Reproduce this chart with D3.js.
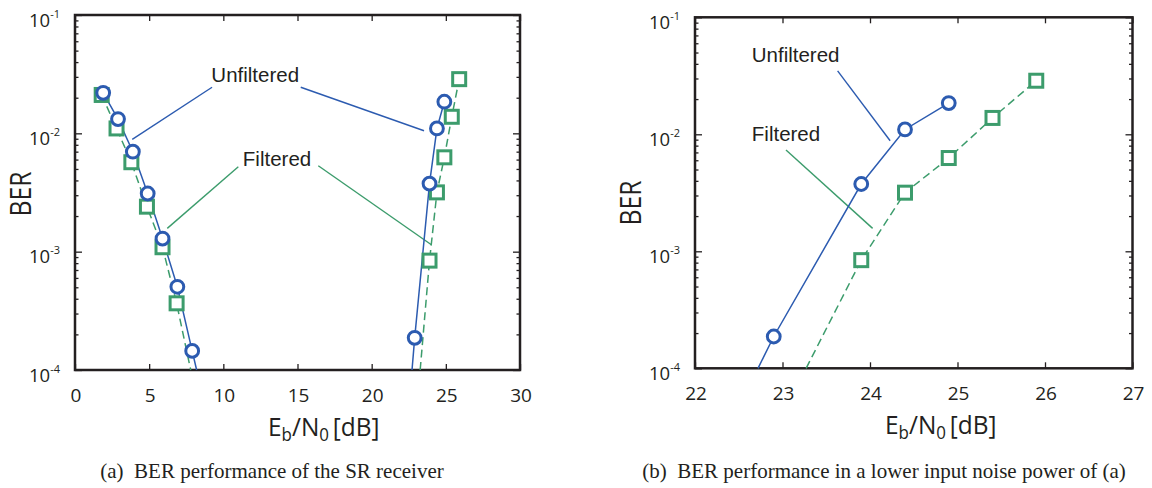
<!DOCTYPE html>
<html>
<head>
<meta charset="utf-8">
<script src="https://cdn.jsdelivr.net/npm/d3@7"></script>
<style>
  body { margin: 0; background: #fff; }
  svg { display: block; }
</style>
</head>
<body>
<svg id="chart" width="1152" height="488"></svg>
<script>
// values (x in dB, BER)
var unfLowX   = [1.9, 2.9, 3.9, 4.9, 5.9, 6.9, 7.9, 8.2];
var unfLowBER = [2.2e-2, 1.32e-2, 7.0e-3, 3.1e-3, 1.29e-3, 5.05e-4, 1.45e-4, 1e-4];
var filLowX   = [1.8, 2.8, 3.8, 4.85, 5.9, 6.85, 7.8];
var filLowBER = [2.11e-2, 1.10e-2, 5.7e-3, 2.4e-3, 1.09e-3, 3.66e-4, 1e-4];

var unfHighX   = [22.72, 22.9, 23.9, 24.4, 24.9];
var unfHighBER = [1e-4, 1.87e-4, 3.76e-3, 1.1e-2, 1.85e-2];
var filHighX   = [23.27, 23.9, 24.4, 24.9, 25.4, 25.9];
var filHighBER = [1e-4, 8.4e-4, 3.17e-3, 6.27e-3, 1.38e-2, 2.87e-2];

// last point of the low-SNR tails and first of the high ones are only line ends
var unfLowMarks = 7, filLowMarks = 6;

var xTicksA = [0, 5, 10, 15, 20, 25, 30];
var xTicksB = [22, 23, 24, 25, 26, 27];
var yTicks  = [1e-1, 1e-2, 1e-3, 1e-4];
var yTickExp = ['-1', '-2', '-3', '-4'];

var captionA = '(a)  BER performance of the SR receiver';
var captionB = '(b)  BER performance in a lower input noise power of (a)';

var BLUE = '#2c5bb0', GREEN = '#3c9c6c', INK = '#231f20';

var svg = d3.select('#chart');

function zip(xs, ys) {
    var out = [];
    for (var i = 0; i < xs.length; i++) out.push([xs[i], ys[i]]);
    return out;
}

function drawPanel(p) {
    var g = svg.append('g');
    var x = d3.scaleLinear().domain(p.xDomain).range([p.left, p.right]);
    var y = d3.scaleLog().domain([1e-4, 1e-1]).range([p.bottom, p.top]);

    var minor = [];
    [1e-4, 1e-3, 1e-2].forEach(function (dec) {
        for (var k = 2; k <= 9; k++) minor.push(dec * k);
    });

    // ticks, all pointing inward
    function axis(ax, tv, size, tr) {
        var a = g.append('g').attr('transform', tr)
            .call(ax.tickValues(tv).tickSize(size).tickFormat(''));
        a.select('.domain').remove();
        a.selectAll('line').attr('stroke', INK).attr('stroke-width', 1.3);
    }
    axis(d3.axisLeft(y), yTicks, -7, 'translate(' + p.left + ',0)');
    axis(d3.axisLeft(y), minor, -3.5, 'translate(' + p.left + ',0)');
    axis(d3.axisRight(y), yTicks, -7, 'translate(' + p.right + ',0)');
    axis(d3.axisRight(y), minor, -3.5, 'translate(' + p.right + ',0)');
    axis(d3.axisBottom(x), p.xTicks, -6, 'translate(0,' + p.bottom + ')');
    axis(d3.axisTop(x), p.xTicks, -6, 'translate(0,' + p.top + ')');

    g.append('rect')
        .attr('x', p.left).attr('y', p.top)
        .attr('width', p.right - p.left).attr('height', p.bottom - p.top)
        .attr('fill', 'none').attr('stroke', INK).attr('stroke-width', 2.5);

    // y tick labels 10^-n
    yTicks.forEach(function (v, i) {
        var t = g.append('text')
            .attr('x', p.left - 15).attr('y', y(v) + 11.5)
            .attr('text-anchor', 'end')
            .attr('font-family', 'Open Sans, sans-serif')
            .attr('fill', INK);
        t.append('tspan').attr('font-size', 18.5).text('10');
        t.append('tspan').attr('font-size', 11).attr('dy', -9).text(yTickExp[i]);
    });

    // x tick labels
    p.xTicks.forEach(function (v) {
        g.append('text')
            .attr('x', x(v) + 1).attr('y', p.bottom + 32)
            .attr('text-anchor', 'middle')
            .attr('font-family', 'Open Sans, sans-serif')
            .attr('font-size', 19).attr('fill', INK)
            .text(v);
    });

    // axis titles
    g.append('text')
        .attr('transform', 'translate(' + p.berX + ',' + p.berY + ') rotate(-90)')
        .attr('text-anchor', 'middle')
        .attr('font-family', 'Open Sans, sans-serif')
        .attr('font-size', 29).attr('fill', INK)
        .attr('textLength', 45).attr('lengthAdjust', 'spacingAndGlyphs')
        .text('BER');

    var xl = g.append('text')
        .attr('transform', 'translate(' + p.xlabX + ',' + (p.bottom + 66) + ') scale(0.94,1)')
        .attr('font-family', 'Open Sans, sans-serif')
        .attr('font-size', 26).attr('fill', INK);
    xl.append('tspan').text('E');
    xl.append('tspan').attr('font-size', 18).attr('dy', 5).text('b');
    xl.append('tspan').attr('dy', -5).text('/N');
    xl.append('tspan').attr('font-size', 18).attr('dy', 5).text('0');
    xl.append('tspan').attr('dy', -5).attr('dx', 4).text('[dB]');

    g.append('text')
        .attr('x', p.capX).attr('y', 478)
        .attr('text-anchor', 'middle')
        .attr('font-family', 'Liberation Serif, Times New Roman, serif')
        .attr('font-size', 21).attr('fill', INK)
        .attr('xml:space', 'preserve')
        .text(p.caption);

    // annotation leaders and labels
    p.leaders.forEach(function (l) {
        g.append('line')
            .attr('x1', x(l.from[0])).attr('y1', y(l.from[1]))
            .attr('x2', x(l.to[0])).attr('y2', y(l.to[1]))
            .attr('stroke', l.color).attr('stroke-width', 1.4);
    });
    p.labels.forEach(function (l) {
        g.append('text')
            .attr('x', x(l.at[0])).attr('y', y(l.at[1]))
            .attr('text-anchor', 'middle')
            .attr('font-family', 'Liberation Sans, Arial, sans-serif')
            .attr('font-size', 20.5).attr('fill', INK)
            .text(l.text);
    });

    var line = d3.line().x(function (d) { return x(d[0]); }).y(function (d) { return y(d[1]); });

    // filtered first, so circles sit on top
    var sq = p.series.filter(function (s) { return s.kind === 'sq'; });
    var circ = p.series.filter(function (s) { return s.kind === 'circ'; });
    sq.concat(circ).forEach(function (s) {
        g.append('path').datum(s.pts)
            .attr('d', line).attr('fill', 'none')
            .attr('stroke', s.kind === 'sq' ? GREEN : BLUE)
            .attr('stroke-width', 1.5)
            .attr('stroke-dasharray', s.kind === 'sq' ? '8,4.5' : null);
    });
    sq.forEach(function (s) {
        g.selectAll(null).data(s.marks).enter().append('rect')
            .attr('x', function (d) { return x(d[0]) - 6.5; })
            .attr('y', function (d) { return y(d[1]) - 6.5; })
            .attr('width', 13).attr('height', 13)
            .attr('fill', '#fff').attr('stroke', GREEN).attr('stroke-width', 3);
    });
    circ.forEach(function (s) {
        g.selectAll(null).data(s.marks).enter().append('circle')
            .attr('cx', function (d) { return x(d[0]); })
            .attr('cy', function (d) { return y(d[1]); })
            .attr('r', 6.4)
            .attr('fill', '#fff').attr('stroke', BLUE).attr('stroke-width', 3);
    });
}

var unfLow = zip(unfLowX, unfLowBER), filLow = zip(filLowX, filLowBER);
var unfHigh = zip(unfHighX, unfHighBER), filHigh = zip(filHighX, filHighBER);

drawPanel({
    left: 75, right: 520, top: 15, bottom: 370,
    xDomain: [0, 30], xTicks: xTicksA,
    berX: 31, berY: 194, xlabX: 268, capX: 272, caption: captionA,
    series: [
        { kind: 'circ', pts: unfLow, marks: unfLow.slice(0, unfLowMarks) },
        { kind: 'circ', pts: unfHigh, marks: unfHigh.slice(1) },
        { kind: 'sq', pts: filLow, marks: filLow.slice(0, filLowMarks) },
        { kind: 'sq', pts: filHigh, marks: filHigh.slice(1) }
    ],
    labels: [
        { text: 'Unfiltered', at: [12.15, 0.0273] },
        { text: 'Filtered', at: [13.62, 0.00532] }
    ],
    leaders: [
        { color: BLUE, from: [9.24, 0.0245], to: [3.86, 0.0089] },
        { color: BLUE, from: [15.22, 0.0245], to: [23.53, 0.01052] },
        { color: GREEN, from: [11.01, 0.00522], to: [6.22, 0.001574] },
        { color: GREEN, from: [16.4, 0.00532], to: [24.05, 0.001138] }
    ]
});

drawPanel({
    left: 695, right: 1132.5, top: 17.3, bottom: 368.3,
    xDomain: [22, 27], xTicks: xTicksB,
    berX: 641, berY: 203, xlabX: 885, capX: 884, caption: captionB,
    series: [
        { kind: 'circ', pts: unfHigh, marks: unfHigh.slice(1) },
        { kind: 'sq', pts: filHigh, marks: filHigh.slice(1) }
    ],
    labels: [
        { text: 'Unfiltered', at: [23.15, 0.0418] },
        { text: 'Filtered', at: [23.04, 0.00881] }
    ],
    leaders: [
        { color: BLUE, from: [23.63, 0.0348], to: [24.23, 0.00881] },
        { color: GREEN, from: [23.04, 0.00734], to: [24.03, 0.00157] }
    ]
});
</script>
</body>
</html>
